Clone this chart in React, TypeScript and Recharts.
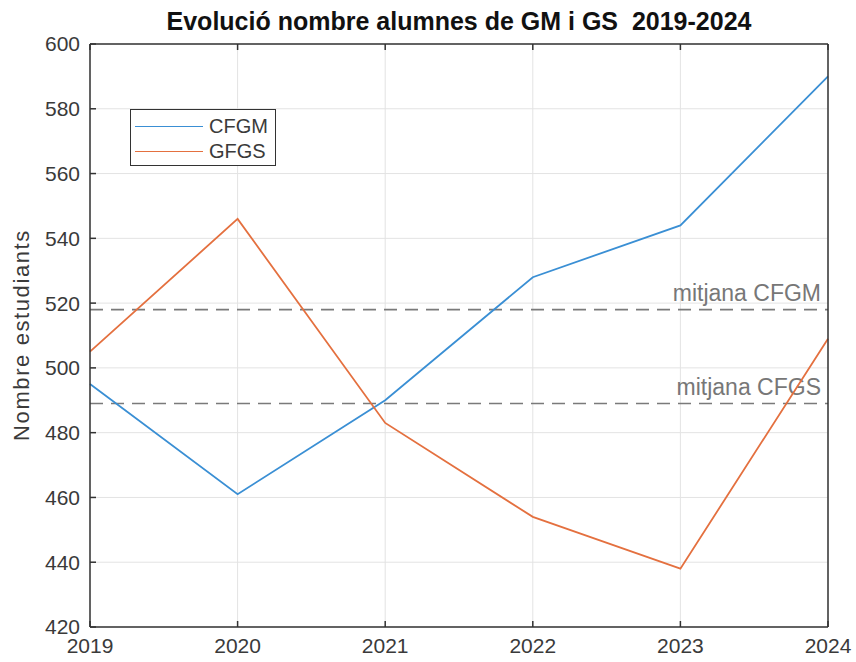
import React from 'react';
import { LineChart, Line, XAxis, YAxis, CartesianGrid, ReferenceLine } from 'recharts';

const years = [2019, 2020, 2021, 2022, 2023, 2024];
const cfgm = [495, 461, 490, 528, 544, 590];
const gfgs = [505, 546, 483, 454, 438, 509];
const yTicks = [420, 440, 460, 480, 500, 520, 540, 560, 580, 600];
const meanCfgm = 518;
const meanCfgs = 489;

const BLUE = '#3a8fd4';
const ORANGE = '#e4703f';
const AXIS = '#333333';
const FONT = '"Liberation Sans", Arial, Helvetica, sans-serif';

const data = years.map((y, i) => ({ year: y, cfgm: cfgm[i], gfgs: gfgs[i] }));

function MeanLabel({ viewBox, value }: any) {
  if (!viewBox) return null;
  const { x, y, width } = viewBox;
  return (
    <text x={x + width - 7} y={y - 9} textAnchor="end" fill="#777777" fontSize={23} fontFamily={FONT}>
      {value}
    </text>
  );
}

export default function App() {
  const tickStyle = { fill: '#3a3a3a', fontSize: 21, fontFamily: FONT };
  return (
    <div style={{ position: 'absolute', left: 0, top: 0, width: 856, height: 662, background: '#fff' }}>
      <LineChart width={856} height={662} data={data} margin={{ top: 0, right: 0, bottom: 0, left: 0 }}>
        <CartesianGrid stroke="#e3e3e3" strokeWidth={1} verticalValues={years} horizontalValues={yTicks} />
        <XAxis
          dataKey="year"
          type="number"
          domain={[2019, 2024]}
          ticks={years}
          height={35}
          stroke={AXIS}
          strokeWidth={1.5}
          tickSize={-6}
          tickMargin={17}
          tick={tickStyle}
          interval={0}
        />
        <XAxis
          xAxisId="top"
          orientation="top"
          dataKey="year"
          type="number"
          domain={[2019, 2024]}
          ticks={years}
          height={44}
          stroke={AXIS}
          strokeWidth={1.5}
          tickSize={-6}
          tickFormatter={() => ''}
          interval={0}
        />
        <YAxis
          domain={[420, 600]}
          ticks={yTicks}
          width={90}
          stroke={AXIS}
          strokeWidth={1.5}
          tickSize={-6}
          tickMargin={16}
          tick={tickStyle}
          interval={0}
        />
        <YAxis
          yAxisId="right"
          orientation="right"
          domain={[420, 600]}
          ticks={yTicks}
          width={28}
          stroke={AXIS}
          strokeWidth={1.5}
          tickSize={-6}
          tickFormatter={() => ''}
          interval={0}
        />
        <ReferenceLine
          y={meanCfgm}
          stroke="#7a7a7a"
          strokeWidth={1.6}
          strokeDasharray="13 8"
          label={<MeanLabel value="mitjana CFGM" />}
        />
        <ReferenceLine
          y={meanCfgs}
          stroke="#7a7a7a"
          strokeWidth={1.6}
          strokeDasharray="13 8"
          label={<MeanLabel value="mitjana CFGS" />}
        />
        <Line dataKey="cfgm" stroke={BLUE} strokeWidth={1.8} dot={false} isAnimationActive={false} />
        <Line dataKey="gfgs" stroke={ORANGE} strokeWidth={1.8} dot={false} isAnimationActive={false} />
      </LineChart>
      <div
        style={{
          position: 'absolute',
          left: 90,
          width: 738,
          top: 7,
          textAlign: 'center',
          fontFamily: FONT,
          fontWeight: 'bold',
          fontSize: 25,
          color: '#111',
          whiteSpace: 'pre',
        }}
      >
        {'Evolució nombre alumnes de GM i GS  2019-2024'}
      </div>
      <div
        style={{
          position: 'absolute',
          left: 22,
          top: 335,
          transform: 'translate(-50%, -50%) rotate(-90deg)',
          fontFamily: FONT,
          fontSize: 22,
          letterSpacing: 1.6,
          color: '#3a3a3a',
          whiteSpace: 'nowrap',
        }}
      >
        Nombre estudiants
      </div>
      <div
        style={{
          position: 'absolute',
          left: 130,
          top: 109,
          width: 144,
          height: 55,
          border: `1.5px solid ${AXIS}`,
          background: '#fff',
          fontFamily: FONT,
          fontSize: 20,
          color: '#3a3a3a',
        }}
      >
        {[
          { name: 'CFGM', color: BLUE },
          { name: 'GFGS', color: ORANGE },
        ].map((s, i) => (
          <div key={s.name} style={{ position: 'absolute', left: 0, top: 4 + i * 25, height: 24, display: 'flex', alignItems: 'center' }}>
            <div style={{ marginLeft: 4, width: 68, height: 0, borderTop: `1.8px solid ${s.color}` }} />
            <span style={{ marginLeft: 6, lineHeight: '24px' }}>{s.name}</span>
          </div>
        ))}
      </div>
    </div>
  );
}
